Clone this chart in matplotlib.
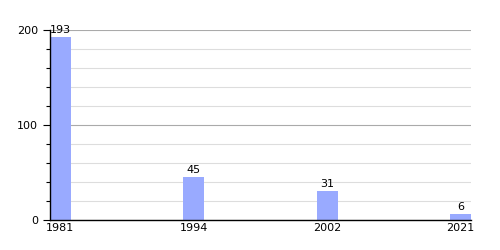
import matplotlib.pyplot as plt
from matplotlib.ticker import MultipleLocator

years = ['1981', '1994', '2002', '2021']
counts = [193, 45, 31, 6]

fig = plt.figure(figsize=(5, 2.5), dpi=100)
ax = fig.add_axes([0.1, 0.12, 0.842, 0.76])

w = 0.154
pos = list(range(len(years)))
ax.bar(pos, counts, width=w, color='#99aaff', zorder=2)
for x, c in zip(pos, counts):
    ax.text(x, c + 2, str(c), ha='center', va='bottom', fontsize=8)

ax.set_xlim(-w / 2, len(years) - 1 + w / 2)
ax.set_ylim(0, 200)
ax.set_xticks(pos)
ax.set_xticklabels(years, fontsize=8)
ax.yaxis.set_major_locator(MultipleLocator(100))
ax.yaxis.set_minor_locator(MultipleLocator(20))
ax.tick_params(axis='y', which='major', length=5, labelsize=8, width=0.8)
ax.tick_params(axis='y', which='minor', length=3, width=0.8)
ax.tick_params(axis='x', length=0, pad=2)

ax.grid(axis='y', which='major', color='#aaaaaa', linewidth=0.8, zorder=0)
ax.grid(axis='y', which='minor', color='#dddddd', linewidth=0.8, zorder=0)
ax.set_axisbelow(True)

for s in ['top', 'right']:
    ax.spines[s].set_visible(False)
ax.spines['left'].set_linewidth(1)
ax.spines['bottom'].set_linewidth(1)

fig.savefig('out.png')
